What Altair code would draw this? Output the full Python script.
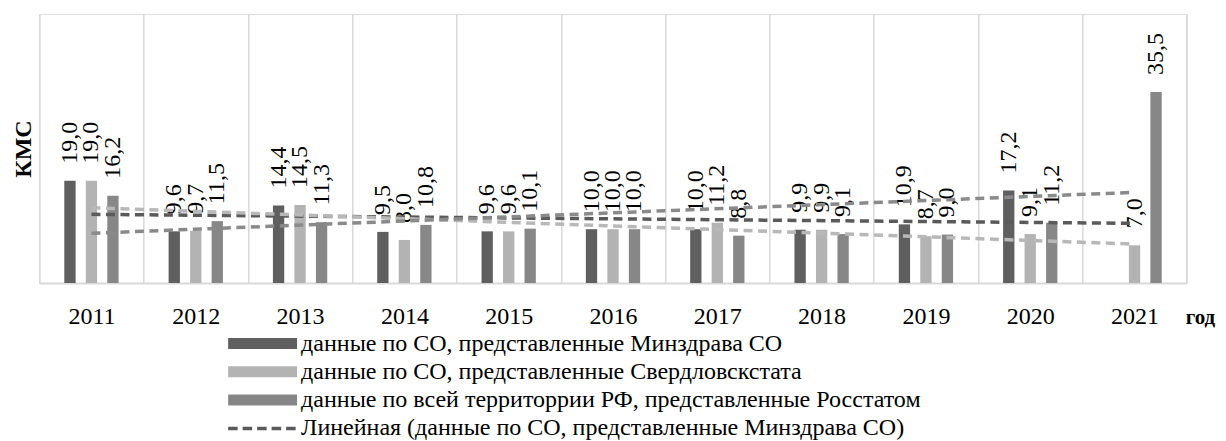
import altair as alt
import pandas as pd

years = [2011, 2012, 2013, 2014, 2015, 2016, 2017, 2018, 2019, 2020, 2021]
series_names = [
    "данные по СО, представленные Минздрава СО",
    "данные по СО, представленные Свердловскстата",
    "данные по всей территоррии РФ, представленные Росстатом",
]
minzdrav = [19.0, 9.6, 14.4, 9.5, 9.6, 10.0, 10.0, 9.9, 10.9, 17.2, None]
sverdlovskstat = [19.0, 9.7, 14.5, 8.0, 9.6, 10.0, 11.2, 9.9, 8.7, 9.1, 7.0]
rosstat = [16.2, 11.5, 11.3, 10.8, 10.1, 10.0, 8.8, 9.1, 9.0, 11.2, 35.5]
trend_names = ["Линейная (" + s + ")" for s in series_names]

bar_colors = ["#5f5f5f", "#b3b3b3", "#878787"]
trend_colors = ["#5a5a5a", "#b8b8b8", "#8a8a8a"]

rows = []
for name, vals in zip(series_names, [minzdrav, sverdlovskstat, rosstat]):
    for y, v in zip(years, vals):
        rows.append({"year": y, "series": name, "value": v})
df = pd.DataFrame(rows)

FONT = "Liberation Serif"
W, H = 1147.4, 269

x_enc = alt.X(
    "year:O",
    scale=alt.Scale(paddingInner=0, paddingOuter=0),
    axis=alt.Axis(
        title="год", titleX=W - 1.5, titleY=40, titleAlign="left", titleBaseline="alphabetic",
        titleFontSize=21, titleFontWeight="bold", titleFont=FONT, titleColor="black",
        labelAngle=0, labelFontSize=24, labelFont=FONT, labelColor="black", labelPadding=21,
        ticks=False, tickSize=0, tickBand="extent", grid=True, gridColor="#d9d9d9",
        gridWidth=1.5, domainColor="#d9d9d9", domainWidth=2,
    ),
)
y_enc = alt.Y(
    "value:Q",
    scale=alt.Scale(domain=[0, 50]),
    axis=alt.Axis(
        labels=False, ticks=False, domain=False, grid=False, title="КМС",
        titleAngle=270, titleX=-16, titleY=H / 2, titleAlign="center", titleBaseline="middle",
        titleFontSize=24, titleFontWeight="bold", titleFont=FONT, titleColor="black",
    ),
)
xoff = alt.XOffset(
    "series:N",
    scale=alt.Scale(domain=["_p0"] + series_names + ["_p1"], paddingInner=0.474, paddingOuter=0.163),
)

base = alt.Chart(df).transform_filter("isValid(datum.value)")

bars = base.mark_bar().encode(
    x=x_enc, y=y_enc, xOffset=xoff,
    color=alt.Color(
        "series:N",
        scale=alt.Scale(domain=series_names, range=bar_colors),
        legend=alt.Legend(
            title=None, orient="none", legendX=211.3, legendY=317.5, direction="vertical",
            symbolType="M-5,-0.8L5,-0.8L5,0.8L-5,0.8Z", symbolSize=190, symbolStrokeWidth=0,
            labelFontSize=24, labelFont=FONT, labelColor="black", labelLimit=1200,
            labelOffset=26.5, rowPadding=4.3, padding=0,
        ),
    ),
)

labels = base.transform_calculate(
    label="replace(format(datum.value, '.1f'), '.', ',')"
).mark_text(
    angle=270, align="left", baseline="middle", dx=17, fontSize=24, font=FONT, color="black"
).encode(x=x_enc, y=y_enc, xOffset=xoff, text="label:N")

trend = base.transform_regression(
    "year", "value", groupby=["series"], extent=[2011, 2021]
).transform_calculate(
    trend='"Линейная (" + datum.series + ")"'
).mark_line(strokeDash=[9, 5.5], strokeWidth=3.5).encode(
    x=x_enc, y=y_enc,
    color=alt.Color(
        "trend:N",
        scale=alt.Scale(domain=trend_names, range=trend_colors),
        legend=alt.Legend(
            title=None, orient="none", legendX=211.3, legendY=402.4, direction="vertical",
            values=trend_names[:1],
            symbolType="M-5,0L5,0", symbolSize=190, symbolStrokeWidth=3.5, symbolDash=[9.5, 5],
            labelFontSize=24, labelFont=FONT, labelColor="black", labelLimit=1200,
            labelOffset=26.5, rowPadding=4.3, padding=0,
        ),
    ),
)

chart = alt.layer(bars, labels, trend).resolve_scale(color="independent").properties(
    width=W, height=H,
    autosize=alt.AutoSizeParams(type="none"),
    padding={"left": 31.3, "top": 6, "right": 31.3, "bottom": 158},
).configure_view(stroke=None).configure(background="white", font=FONT)

chart.save("out.html", embed_options={"renderer": "svg", "actions": False})
